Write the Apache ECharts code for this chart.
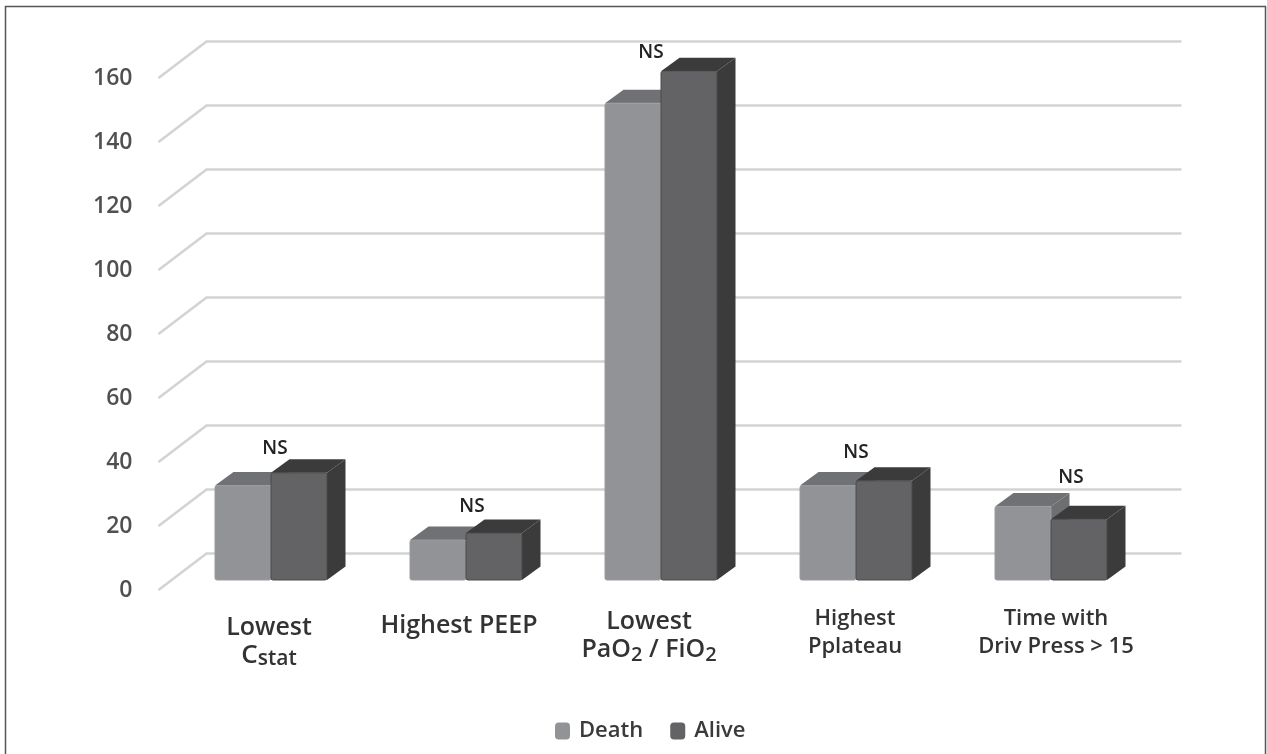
<!DOCTYPE html>
<html><head><meta charset="utf-8">
<style>html,body{margin:0;padding:0;background:#fff}#main{width:1267px;height:754px;filter:blur(0.55px)}</style>
<script src="https://cdn.jsdelivr.net/npm/echarts@6/dist/echarts.min.js"></script>
</head><body><div id="main"></div>
<script>
const categories = ['Lowest Cstat','Highest PEEP','Lowest PaO2 / FiO2','Highest Pplateau','Time with Driv Press > 15'];
const death = [29.5, 12.5, 149, 29.5, 23];
const alive = [33.5, 14.7, 159, 31, 19];
const yTicks = [0,20,40,60,80,100,120,140,160];
const significance = ['NS','NS','NS','NS','NS'];

// 3D projection of the chart box, in pixels
const DX = 48, DY = 36.5;           // full depth of the box
const BX = 15, BY = 10;             // front of the bars inside the box
const SX = 18.5, SY = 13.5;         // depth of one bar
const BW = 56;                      // front width of one bar
const FONT = '"Open Sans"';

const labelMarkup = [
  '{a|Lowest}\n{c|C}{s|stat}',
  '{a|Highest PEEP}',
  '{a|Lowest}\n{a|PaO}{n|2}{a| / FiO}{n|2}',
  '{b|Highest}\n{b|Pplateau}',
  '{b|Time with}\n{b|Driv Press > 15}'
];
const labelPad = [[9,0,0,26],[7,0,0,16],[3,0,0,6],[0,0,0,28],[0,0,0,40]];
const nsShift = [[17,11],[19,12.5],[3,5],[13,15],[33,15]];

function bar3d(order, cFront, cTop, cSide, stroke){
  return function(params, api){
    const c = api.coord([api.value(0), 0]);
    const t = api.coord([api.value(0), api.value(1)]);
    const x0 = c[0] + BX - BW + order*BW, x1 = x0 + BW;
    const yb = c[1] - BY, yt = t[1] - BY;
    return {type:'group', children:[
      {type:'polygon', shape:{points:[[x0,yt],[x0+SX,yt-SY],[x1+SX,yt-SY],[x1,yt]]}, style:{fill:cTop}},
      {type:'polygon', shape:{points:[[x1,yt],[x1+SX,yt-SY],[x1+SX,yb-SY],[x1,yb]]}, style:{fill:cSide}},
      {type:'rect', shape:{x:x0,y:yt,width:BW,height:yb-yt,r:2}, style:{fill:cFront, stroke:stroke, lineWidth:1}}
    ]};
  };
}

const option = {
  backgroundColor:'#fff',
  animation:false,
  grid:{left:158.5, top:78, width:975, height:512, containLabel:false},
  legend:{
    data:['Death','Alive'], left:550, top:715, itemWidth:15, itemHeight:17, itemGap:27,
    icon:'roundRect', textStyle:{fontFamily:FONT, fontSize:22, fontWeight:600, color:'#3a3a3a', padding:[0,0,0,4]}
  },
  xAxis:{
    type:'category',
    data:categories.map((v,i)=>({value:v, textStyle:{padding:labelPad[i]}})),
    axisLine:{show:false}, axisTick:{show:false}, splitLine:{show:false},
    axisLabel:{
      interval:0, margin:15, hideOverlap:false,
      formatter:(v,i)=>labelMarkup[i],
      rich:{
        a:{fontFamily:FONT,fontSize:25,fontWeight:600,color:'#333',lineHeight:28},
        c:{fontFamily:FONT,fontSize:26,fontWeight:600,color:'#333',lineHeight:28},
        s:{fontFamily:FONT,fontSize:21,fontWeight:600,color:'#333',lineHeight:28,padding:[6,0,0,0]},
        n:{fontFamily:FONT,fontSize:20,fontWeight:600,color:'#333',lineHeight:28,padding:[10,0,0,0]},
        b:{fontFamily:FONT,fontSize:22,fontWeight:600,color:'#333',lineHeight:28}
      }
    }
  },
  yAxis:{
    type:'value', min:0, max:160, interval:20,
    axisLine:{show:false}, axisTick:{show:false}, splitLine:{show:false},
    axisLabel:{margin:26, fontFamily:FONT, fontSize:23, fontWeight:600, color:'#505050', padding:[0,0,6,0]}
  },
  graphic:[{type:'polyline', silent:true, z:100,
    shape:{points:[[5.5,754],[5.5,6.5],[1265.5,6.5],[1265.5,754]]},
    style:{stroke:'#555',lineWidth:1.5,fill:null}}],
  series:[
    {
      name:'grid', type:'custom', silent:true, clip:false, z:1,
      data:yTicks.map(v=>[0,v]),
      renderItem:(p,api)=>{
        const a = api.coord([0,api.value(1)]);
        const x0 = p.coordSys.x, x1 = x0 + p.coordSys.width;
        return {type:'polyline', shape:{points:[[x0,a[1]],[x0+DX,a[1]-DY],[x1+DX,a[1]-DY]]},
          style:{stroke:'#d2d3d4',lineWidth:2.5,fill:null}};
      }
    },
    {
      name:'Death', type:'custom', clip:false, z:2, itemStyle:{color:'#929396'},
      encode:{x:0,y:1},
      data:death.map((v,i)=>[i,v]),
      renderItem:bar3d(0,'#929396','#707174','#6e6f71','#9a9b9e')
    },
    {
      name:'Alive', type:'custom', clip:false, z:3, itemStyle:{color:'#636365'},
      encode:{x:0,y:1},
      data:alive.map((v,i)=>[i,v]),
      renderItem:bar3d(1,'#636365','#3b3b3b','#3b3b3b','#4a4a4b')
    },
    {
      name:'sig', type:'custom', clip:false, z:4, silent:true,
      data:categories.map((c,i)=>[i,Math.max(death[i],alive[i])]),
      renderItem:(p,api)=>{
        const i = api.value(0);
        const c = api.coord([i, api.value(1)]);
        return {type:'text', style:{
          text:significance[i], x:c[0]+nsShift[i][0]+2, y:c[1]-BY-SY-nsShift[i][1],
          align:'center', verticalAlign:'middle',
          font:'600 19px '+FONT, fill:'#222'}};
      }
    }
  ]
};
echarts.init(document.getElementById('main')).setOption(option);
</script></body></html>
